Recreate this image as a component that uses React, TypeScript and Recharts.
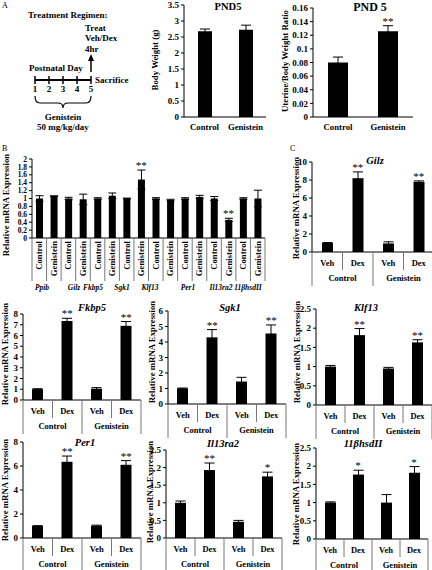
import React from "react";
import { BarChart, Bar, XAxis, YAxis, ErrorBar, ReferenceDot } from "recharts";

const FONT = "'Liberation Serif', 'Times New Roman', serif";

// A - PND5
const pndGroups = ["Control", "Genistein"];
const bodyWeight = [2.68, 2.73];
const bodyWeightErr = [0.07, 0.14];
const bodyWeightStars = ["", ""];
const bodyWeightTicks = [0, 0.5, 1, 1.5, 2, 2.5, 3, 3.5];
const uterineRatio = [0.08, 0.126];
const uterineErr = [0.008, 0.008];
const uterineStars = ["", "**"];
const uterineTicks = [0, 0.02, 0.04, 0.06, 0.08, 0.1, 0.12, 0.14, 0.16];
const days = ["1", "2", "3", "4", "5"];

// B - genistein alone
const bGenes = ["Ppib", "Gilz", "Fkbp5", "Sgk1", "Klf13", "Per1", "Il13ra2", "11βhsdII"];
const bGroups = ["Control", "Genistein"];
const bValues = [1.0, 1.06, 1.0, 0.98, 1.0, 1.07, 1.0, 1.48, 1.0, 0.96, 1.0, 1.04, 1.0, 0.46, 1.0, 1.0];
const bErr = [0.07, 0.01, 0.03, 0.13, 0.02, 0.07, 0.01, 0.24, 0.02, 0.02, 0.02, 0.04, 0.05, 0.04, 0.02, 0.21];
const bStars = ["", "", "", "", "", "", "", "**", "", "", "", "", "", "**", "", ""];
const bTicks = [0, 0.2, 0.4, 0.6, 0.8, 1, 1.2, 1.4, 1.6, 1.8, 2];

// C - Veh/Dex
const treatments = ["Veh", "Dex", "Veh", "Dex"];
const cGroups = ["Control", "Genistein"];
const gilzMean = [1.0, 8.2, 0.95, 7.8];
const gilzErr = [0.05, 0.7, 0.18, 0.1];
const gilzStars = ["", "**", "", "**"];
const fkbp5Mean = [1.0, 7.35, 1.05, 6.9];
const fkbp5Err = [0.05, 0.25, 0.1, 0.4];
const fkbp5Stars = ["", "**", "", "**"];
const sgk1Mean = [1.0, 4.3, 1.45, 4.55];
const sgk1Err = [0.03, 0.5, 0.27, 0.55];
const sgk1Stars = ["", "**", "", "**"];
const klf13Mean = [1.0, 1.82, 0.95, 1.63];
const klf13Err = [0.03, 0.17, 0.03, 0.07];
const klf13Stars = ["", "**", "", "**"];
const per1Mean = [1.0, 6.35, 1.02, 6.1];
const per1Err = [0.03, 0.48, 0.05, 0.35];
const per1Stars = ["", "**", "", "**"];
const il13ra2Mean = [1.0, 1.93, 0.46, 1.75];
const il13ra2Err = [0.05, 0.2, 0.04, 0.12];
const il13ra2Stars = ["", "**", "", "*"];
const hsdMean = [1.0, 1.77, 1.0, 1.82];
const hsdErr = [0.02, 0.12, 0.22, 0.17];
const hsdStars = ["", "*", "", "*"];
const ticks8 = [0, 1, 2, 3, 4, 5, 6, 7, 8];
const ticks8by2 = [0, 2, 4, 6, 8];
const ticks10 = [0, 2, 4, 6, 8, 10];
const ticks6 = [0, 1, 2, 3, 4, 5, 6];
const ticks25 = [0, 0.5, 1, 1.5, 2, 2.5];

const bold = { fontFamily: FONT, fontWeight: 700, fill: "#000" } as const;

type TickFn = (x: number, i: number, axisY: number, band: number) => React.ReactNode;

function Plot(props: {
  left: number; right: number; top: number; zero: number; max: number; ticks: number[];
  values: number[]; errs: number[]; stars: string[]; barSize: number; cap: number;
  xHeight: number; renderTick: TickFn; yFont?: number;
}) {
  const { left, right, top, zero, max, ticks, values, errs, stars, barSize, cap, xHeight, renderTick } = props;
  const YW = 34, MT = 12, MR = 4;
  const w = right - left;
  const h = zero - top;
  const band = w / values.length;
  const axisY = MT + h;
  const rows = values.map((v, i) => ({ key: String(i), value: v, err: errs[i] }));
  const Tick = (p: any) => <g>{renderTick(p.x, Number(p.payload.value), axisY, band)}</g>;
  return (
    <div style={{ position: "absolute", left: left - YW, top: top - MT }}>
      <BarChart width={YW + w + MR} height={MT + h + xHeight} data={rows}
        margin={{ top: MT, right: MR, left: 0, bottom: 0 }}>
        <XAxis dataKey="key" height={xHeight} interval={0} tickLine={false}
          axisLine={{ stroke: "#000" }} tick={Tick} />
        <YAxis width={YW} domain={[0, max]} ticks={ticks} interval={0} tickSize={3} tickMargin={2}
          axisLine={{ stroke: "#000" }} tickLine={{ stroke: "#000" }}
          tick={{ ...bold, fontSize: props.yFont ?? 9 }} />
        <Bar dataKey="value" fill="#000" barSize={barSize} isAnimationActive={false}>
          <ErrorBar dataKey="err" width={cap} stroke="#000" strokeWidth={1} />
        </Bar>
        {rows.map((r, i) =>
          stars[i] ? (
            <ReferenceDot key={i} x={r.key} y={r.value + r.err} r={0}
              shape={(p: any) => (
                <text x={p.cx} y={p.cy - 1} textAnchor="middle" fontSize={11} fontFamily={FONT} fill="#000">
                  {stars[i]}
                </text>
              )} />
          ) : null
        )}
      </BarChart>
    </div>
  );
}

const pndTick: TickFn = (x, i, axisY) => (
  <text x={x} y={axisY + 13} textAnchor="middle" fontSize={8.7} {...bold}>{pndGroups[i]}</text>
);

const bTick: TickFn = (x, i, axisY, band) => (
  <>
    <text transform={`rotate(-90 ${x} ${axisY + 3})`} x={x} y={axisY + 3} textAnchor="end"
      dominantBaseline="central" fontSize={8.7} {...bold}>{bGroups[i % 2]}</text>
    <line x1={x - band / 2} x2={x - band / 2} y1={axisY} y2={axisY + 43} stroke="#777" />
    {i === bValues.length - 1 && (
      <line x1={x + band / 2} x2={x + band / 2} y1={axisY} y2={axisY + 43} stroke="#777" />
    )}
  </>
);

const cTick: TickFn = (x, i, axisY, band) => (
  <>
    <text x={x} y={axisY + 14} textAnchor="middle" fontSize={8.5} {...bold}>{treatments[i]}</text>
    <line x1={x - band / 2} x2={x - band / 2} y1={axisY} y2={axisY + (i % 2 === 0 ? 34 : 18)} stroke="#777" />
    {i === treatments.length - 1 && (
      <line x1={x + band / 2} x2={x + band / 2} y1={axisY} y2={axisY + 34} stroke="#777" />
    )}
    {i % 2 === 0 && (
      <text x={x + band / 2} y={axisY + 29} textAnchor="middle" fontSize={8.5} {...bold}>{cGroups[i / 2]}</text>
    )}
  </>
);

function YLabel({ x, y, text }: { x: number; y: number; text: string }) {
  return (
    <text transform={`rotate(-90 ${x} ${y})`} x={x} y={y} textAnchor="middle" dominantBaseline="central"
      fontSize={8.8} {...bold}>{text}</text>
  );
}

function Title({ x, y, text, size = 10.5 }: { x: number; y: number; text: string; size?: number }) {
  return <text x={x} y={y} textAnchor="middle" fontSize={size} fontStyle="italic" {...bold}>{text}</text>;
}

const geneX = [42, 74, 93, 122, 150, 188, 221, 248];

export default function App() {
  return (
    <div style={{ position: "absolute", left: 0, top: 0, width: 432, height: 570, background: "#fff", overflow: "hidden" }}>
      <Plot left={184} right={266} top={5} zero={117} max={3.5} ticks={bodyWeightTicks}
        values={bodyWeight} errs={bodyWeightErr} stars={bodyWeightStars} barSize={14} cap={5}
        xHeight={20} renderTick={pndTick} />
      <Plot left={313} right={413} top={8} zero={117} max={0.16} ticks={uterineTicks}
        values={uterineRatio} errs={uterineErr} stars={uterineStars} barSize={20} cap={5}
        xHeight={20} renderTick={pndTick} />
      <Plot left={32} right={265} top={159} zero={238} max={2} ticks={bTicks} yFont={7.5}
        values={bValues} errs={bErr} stars={bStars} barSize={7} cap={4}
        xHeight={46} renderTick={bTick} />
      <Plot left={312} right={434} top={162} zero={252} max={10} ticks={ticks10}
        values={gilzMean} errs={gilzErr} stars={gilzStars} barSize={11} cap={5}
        xHeight={36} renderTick={cTick} />
      <Plot left={23} right={141} top={314} zero={400} max={8} ticks={ticks8}
        values={fkbp5Mean} errs={fkbp5Err} stars={fkbp5Stars} barSize={11} cap={5}
        xHeight={36} renderTick={cTick} />
      <Plot left={168} right={286} top={311} zero={404} max={6} ticks={ticks6}
        values={sgk1Mean} errs={sgk1Err} stars={sgk1Stars} barSize={11} cap={5}
        xHeight={36} renderTick={cTick} />
      <Plot left={316} right={432} top={309} zero={405} max={2.5} ticks={ticks25}
        values={klf13Mean} errs={klf13Err} stars={klf13Stars} barSize={11} cap={5}
        xHeight={36} renderTick={cTick} />
      <Plot left={23} right={141} top={442} zero={538} max={8} ticks={ticks8by2}
        values={per1Mean} errs={per1Err} stars={per1Stars} barSize={11} cap={5}
        xHeight={36} renderTick={cTick} />
      <Plot left={166} right={282} top={450} zero={538} max={2.5} ticks={ticks25}
        values={il13ra2Mean} errs={il13ra2Err} stars={il13ra2Stars} barSize={11} cap={5}
        xHeight={36} renderTick={cTick} />
      <Plot left={316} right={428} top={448} zero={539} max={2.5} ticks={ticks25}
        values={hsdMean} errs={hsdErr} stars={hsdStars} barSize={11} cap={5}
        xHeight={36} renderTick={cTick} />

      <svg width={432} height={570} style={{ position: "absolute", left: 0, top: 0, pointerEvents: "none" }}>
        {/* panel letters */}
        <text x={2} y={8} fontSize={8} fontFamily={FONT}>A</text>
        <text x={2} y={151} fontSize={8} fontFamily={FONT}>B</text>
        <text x={290} y={151} fontSize={8} fontFamily={FONT}>C</text>

        {/* treatment regimen */}
        <text x={28} y={18} fontSize={9} {...bold}>Treatment Regimen:</text>
        <text x={85} y={31} fontSize={9} {...bold}>Treat</text>
        <text x={85} y={41} fontSize={9} {...bold}>Veh/Dex</text>
        <text x={85} y={52} fontSize={9} {...bold}>4hr</text>
        <line x1={91} y1={72} x2={91} y2={60} stroke="#000" strokeWidth={1.5} />
        <polygon points="88,61 94,61 91,54" fill="#000" />
        <text x={29} y={71} fontSize={9} {...bold}>Postnatal Day</text>
        <line x1={35} y1={80} x2={91} y2={80} stroke="#000" strokeWidth={2} />
        {days.map((d, i) => (
          <g key={d}>
            <line x1={35 + i * 14} x2={35 + i * 14} y1={76} y2={84} stroke="#000" strokeWidth={1.5} />
            <text x={35 + i * 14} y={92} textAnchor="middle" fontSize={9} {...bold}>{d}</text>
          </g>
        ))}
        <text x={95} y={83} fontSize={9} {...bold}>Sacrifice</text>
        <path d="M35,96 Q35,103 40,103 L58,103 Q63,103 63,108 Q63,103 68,103 L86,103 Q91,103 91,96"
          fill="none" stroke="#000" strokeWidth={1.2} />
        <text x={63} y={120} textAnchor="middle" fontSize={9} {...bold}>Genistein</text>
        <text x={63} y={130} textAnchor="middle" fontSize={9} {...bold}>50 mg/kg/day</text>

        {/* titles */}
        <text x={228} y={10} textAnchor="middle" fontSize={10.5} {...bold}>PND5</text>
        <text x={370} y={11} textAnchor="middle" fontSize={12} {...bold}>PND 5</text>
        <Title x={375} y={164} text="Gilz" />
        <Title x={92} y={311} text="Fkbp5" />
        <Title x={230} y={311} text="Sgk1" />
        <Title x={366} y={311} text="Klf13" />
        <Title x={85} y={446} text="Per1" />
        <Title x={223} y={447} text="Il13ra2" />
        <Title x={363} y={447} text="11βhsdII" />

        {/* axis titles */}
        <YLabel x={155} y={60} text="Body Weight (g)" />
        <YLabel x={285} y={61} text="Uterine/Body Weight Ratio" />
        <YLabel x={6} y={205} text="Relative mRNA Expression" />
        <YLabel x={296} y={208} text="Relative mRNA Expression" />
        <YLabel x={5} y={354} text="Relative mRNA Expression" />
        <YLabel x={152} y={352} text="Relative mRNA Expression" />
        <YLabel x={297} y={352} text="Relative mRNA Expression" />
        <YLabel x={5} y={490} text="Relative mRNA Expression" />
        <YLabel x={150} y={492} text="Relative mRNA Expression" />
        <YLabel x={296} y={494} text="Relative mRNA Expression" />

        {/* gene names under panel B */}
        {bGenes.map((g, i) => (
          <text key={g} x={geneX[i]} y={290} textAnchor="middle" fontSize={7.5} fontStyle="italic" {...bold}>{g}</text>
        ))}
      </svg>
    </div>
  );
}
